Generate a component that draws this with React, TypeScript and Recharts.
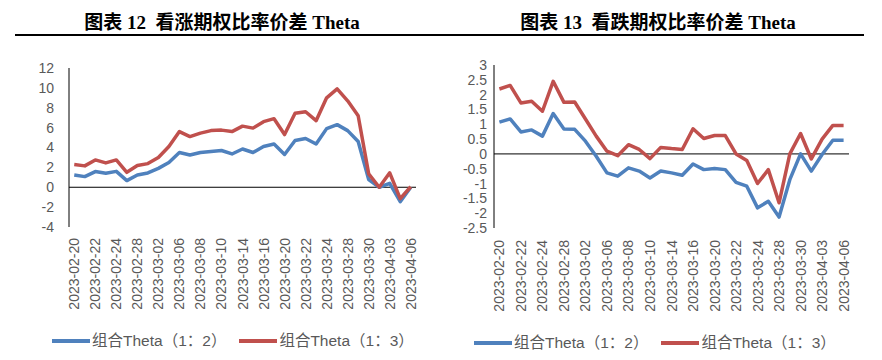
import React from "react";
import { LineChart, Line, XAxis, YAxis, ReferenceLine } from "recharts";

const dates = [
  "2023-02-20", "2023-02-21", "2023-02-22", "2023-02-23", "2023-02-24", "2023-02-27", "2023-02-28",
  "2023-03-01", "2023-03-02", "2023-03-03", "2023-03-06", "2023-03-07", "2023-03-08", "2023-03-09",
  "2023-03-10", "2023-03-13", "2023-03-14", "2023-03-15", "2023-03-16", "2023-03-17", "2023-03-20",
  "2023-03-21", "2023-03-22", "2023-03-23", "2023-03-24", "2023-03-27", "2023-03-28", "2023-03-29",
  "2023-03-30", "2023-03-31", "2023-04-03", "2023-04-04", "2023-04-06",
];

// 看涨期权比率价差
const callTheta12 = [1.24, 1.07, 1.58, 1.41, 1.6, 0.67, 1.24, 1.44, 1.9, 2.5, 3.5, 3.25, 3.5, 3.6, 3.7, 3.35, 3.85, 3.5, 4.1, 4.35, 3.3, 4.7, 4.9, 4.35, 5.9, 6.3, 5.7, 4.6, 0.77, 0, 0.4, -1.45, 0];
const callTheta13 = [2.28, 2.15, 2.75, 2.45, 2.75, 1.5, 2.18, 2.38, 3.0, 4.1, 5.6, 5.1, 5.45, 5.7, 5.75, 5.6, 6.15, 5.95, 6.6, 6.9, 5.3, 7.45, 7.6, 6.7, 9.0, 9.9, 8.7, 7.2, 1.35, 0, 1.45, -1.15, 0.05];

// 看跌期权比率价差
const putTheta12 = [1.07, 1.18, 0.74, 0.81, 0.6, 1.36, 0.84, 0.83, 0.43, -0.08, -0.64, -0.75, -0.47, -0.58, -0.81, -0.58, -0.64, -0.72, -0.34, -0.53, -0.49, -0.53, -0.96, -1.09, -1.82, -1.6, -2.13, -0.87, 0, -0.58, -0.02, 0.46, 0.46];
const putTheta13 = [2.19, 2.31, 1.72, 1.78, 1.44, 2.45, 1.74, 1.75, 1.18, 0.6, 0.09, -0.06, 0.31, 0.15, -0.16, 0.22, 0.18, 0.15, 0.85, 0.52, 0.62, 0.62, 0, -0.22, -1.0, -0.53, -1.65, 0, 0.69, -0.17, 0.5, 0.96, 0.96];

const callTicks = [-4, -2, 0, 2, 4, 6, 8, 10, 12];
const putTicks = [-2.5, -2, -1.5, -1, -0.5, 0, 0.5, 1, 1.5, 2, 2.5, 3];

const seriesNames = ["组合Theta（1：2）", "组合Theta（1：3）"];
const BLUE = "#4F81BD";
const RED = "#C0504D";
const GREY = "#595959";
const FONT = "'Liberation Sans', 'Noto Sans CJK SC', sans-serif";

const callData = dates.map((d, i) => ({ date: d, a: callTheta12[i], b: callTheta13[i] }));
const putData = dates.map((d, i) => ({ date: d, a: putTheta12[i], b: putTheta13[i] }));

function DateTick(props: any) {
  const { x, y, payload, offsetY } = props;
  return (
    <text
      transform={`translate(${x},${y + offsetY}) rotate(-90)`}
      textAnchor="end"
      dominantBaseline="central"
      fill={GREY}
      fontSize={14}
      fontFamily={FONT}
    >
      {payload.value}
    </text>
  );
}

function LegendRow({ left, top }: { left: number; top: number }) {
  const item = (color: string, name: string, gap: number) => (
    <div style={{ display: "flex", alignItems: "center", marginRight: gap }}>
      <div style={{ width: 38, height: 4, background: color, marginRight: 2 }} />
      <span>{name}</span>
    </div>
  );
  return (
    <div
      style={{
        position: "absolute", left, top, display: "flex", alignItems: "center",
        fontFamily: FONT, fontSize: 15.5, color: GREY, lineHeight: "18px", whiteSpace: "nowrap",
      }}
    >
      {item(BLUE, seriesNames[0], 13)}
      {item(RED, seriesNames[1], 0)}
    </div>
  );
}

interface PanelProps {
  left: number;
  title: React.ReactNode;
  titleCenter: number;
  data: { date: string; a: number; b: number }[];
  domain: [number, number];
  ticks: number[];
  margin: { top: number; right: number; left: number; bottom: number };
  yWidth: number;
  labelGap: number;
  xPad: number;
  xHeight: number;
  tickOffset: number;
  legendLeft: number;
  legendTop: number;
}

function Panel(p: PanelProps) {
  return (
    <div style={{ position: "absolute", left: p.left, top: 0, width: 441, height: 360 }}>
      <div
        style={{
          position: "absolute", left: p.titleCenter - 200, width: 400, top: 7, textAlign: "center",
          fontFamily: "'Liberation Serif', 'Noto Sans CJK SC', serif", fontWeight: "bold", fontSize: 19,
          color: "#000", whiteSpace: "pre",
        }}
      >
        {p.title}
      </div>
      <LineChart width={441} height={360} data={p.data} margin={p.margin}>
        <XAxis
          dataKey="date"
          interval={1}
          axisLine={false}
          tickLine={false}
          tickSize={0}
          tickMargin={0}
          height={p.xHeight}
          padding={{ left: p.xPad, right: p.xPad }}
          tick={<DateTick offsetY={p.tickOffset} />}
        />
        <YAxis
          domain={p.domain}
          ticks={p.ticks}
          width={p.yWidth}
          axisLine={{ stroke: "#000", strokeWidth: 1 }}
          tickLine={false}
          tickSize={0}
          tickMargin={p.labelGap}
          tick={{ fill: GREY, fontSize: 14, fontFamily: FONT }}
          interval={0}
        />
        <ReferenceLine y={0} stroke="#000" strokeWidth={1} />
        <Line type="linear" dataKey="a" stroke={BLUE} strokeWidth={3.5} dot={false} isAnimationActive={false} strokeLinejoin="round" />
        <Line type="linear" dataKey="b" stroke={RED} strokeWidth={3.5} dot={false} isAnimationActive={false} strokeLinejoin="round" />
      </LineChart>
      <LegendRow left={p.legendLeft} top={p.legendTop} />
    </div>
  );
}

export default function App() {
  return (
    <div style={{ position: "absolute", left: 0, top: 0, width: 882, height: 360, background: "#fff", overflow: "hidden" }}>
      <div style={{ position: "absolute", left: 15, top: 34, width: 849, height: 1.5, background: "#000" }} />
      <Panel
        left={0}
        title={"图表 12  看涨期权比率价差 Theta"}
        titleCenter={222}
        data={callData}
        domain={[-4, 12]}
        ticks={callTicks}
        margin={{ top: 68, right: 25, left: 9, bottom: 0 }}
        yWidth={60}
        labelGap={15}
        xPad={5.25}
        xHeight={133}
        tickOffset={11}
        legendLeft={52}
        legendTop={332}
      />
      <Panel
        left={441}
        title={"图表 13  看跌期权比率价差 Theta"}
        titleCenter={217}
        data={putData}
        domain={[-2.5, 3]}
        ticks={putTicks}
        margin={{ top: 65, right: 33, left: 3, bottom: 0 }}
        yWidth={50}
        labelGap={7}
        xPad={5.4}
        xHeight={132}
        tickOffset={12}
        legendLeft={33}
        legendTop={334}
      />
    </div>
  );
}
